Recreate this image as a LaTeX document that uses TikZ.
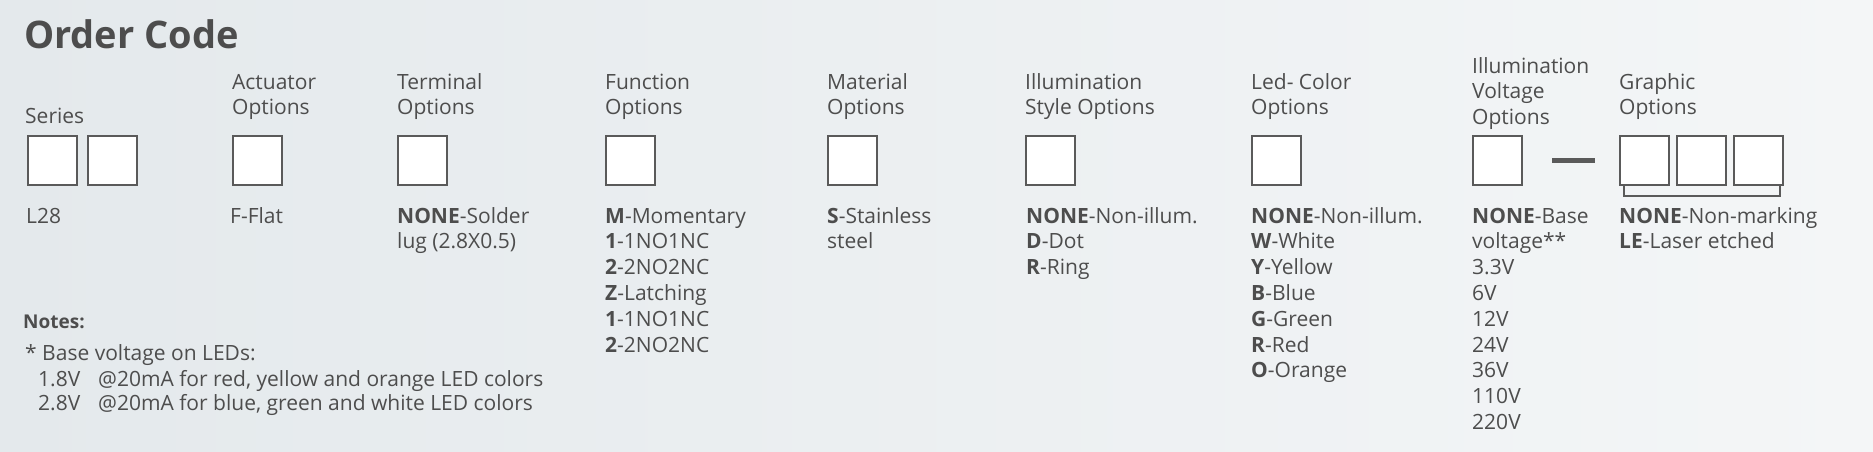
\documentclass[tikz,border=0pt]{standalone}
\usepackage{fontspec}
\setmainfont{Open Sans}

\definecolor{txtgray}{HTML}{4D4D4D}
\definecolor{boxgray}{HTML}{5A5A5A}
\definecolor{bgleft}{HTML}{E4E9EC}
\definecolor{bgright}{HTML}{F4F6F7}

\tikzset{
  codebox/.style={draw=boxgray, line width=2pt, fill=white, minimum width=49pt, minimum height=49pt, inner sep=0pt, anchor=north west},
  optlabel/.style={anchor=base west, inner sep=0pt, text=txtgray, font=\fontsize{21}{24}\selectfont},
  optvalue/.style={optlabel},
  sepbar/.style={draw=boxgray, line width=5pt},
  bracket/.style={draw=boxgray, line width=2pt}
}

\begin{document}
\begin{tikzpicture}[x=1pt, y=-1pt]
  \shade[left color=bgleft, right color=bgright] (0,0) rectangle (1873,451);
  \useasboundingbox (0,0) rectangle (1873,451);

  \node[optlabel, font=\fontsize{38}{42}\selectfont\bfseries] (title) at (24,48) {Order Code};

  % series
  \node[optlabel] (ser_lbl) at (25,123) {Series};
  \node[codebox] (ser_box1) at (27,135) {};
  \node[codebox] (ser_box2) at (87,135) {};
  \node[optvalue] (ser_val) at (26,223) {L28};

  % actuator
  \node[optlabel] (act_lbl1) at (232,89) {Actuator};
  \node[optlabel] (act_lbl2) at (232,114.5) {Options};
  \node[codebox] (act_box) at (232,135) {};
  \node[optvalue] (act_val) at (230,223) {F-Flat};

  % terminal
  \node[optlabel] (term_lbl1) at (397,89) {Terminal};
  \node[optlabel] (term_lbl2) at (397,114.5) {Options};
  \node[codebox] (term_box) at (397,135) {};
  \foreach \txt [count=\i from 0] in {{\textbf{NONE}-Solder}, {lug (2.8X0.5)}}
    \node[optvalue] (term_val\i) at (397, 223+25.8*\i) {\txt};

  % function
  \node[optlabel] (fn_lbl1) at (605,89) {Function};
  \node[optlabel] (fn_lbl2) at (605,114.5) {Options};
  \node[codebox] (fn_box) at (605,135) {};
  \foreach \txt [count=\i from 0] in {{\textbf{M}-Momentary}, {\textbf{1}-1NO1NC}, {\textbf{2}-2NO2NC},
      {\textbf{Z}-Latching}, {\textbf{1}-1NO1NC}, {\textbf{2}-2NO2NC}}
    \node[optvalue] (fn_val\i) at (605, 223+25.8*\i) {\txt};

  % material
  \node[optlabel] (mat_lbl1) at (827,89) {Material};
  \node[optlabel] (mat_lbl2) at (827,114.5) {Options};
  \node[codebox] (mat_box) at (827,135) {};
  \foreach \txt [count=\i from 0] in {{\textbf{S}-Stainless}, {steel}}
    \node[optvalue] (mat_val\i) at (827, 223+25.8*\i) {\txt};

  % illumination style
  \node[optlabel] (sty_lbl1) at (1025,89) {Illumination};
  \node[optlabel] (sty_lbl2) at (1025,114.5) {Style Options};
  \node[codebox] (sty_box) at (1025,135) {};
  \foreach \txt [count=\i from 0] in {{\textbf{NONE}-Non-illum.}, {\textbf{D}-Dot}, {\textbf{R}-Ring}}
    \node[optvalue] (sty_val\i) at (1026, 223+25.8*\i) {\txt};

  % led colour
  \node[optlabel] (led_lbl1) at (1251,89) {Led- Color};
  \node[optlabel] (led_lbl2) at (1251,114.5) {Options};
  \node[codebox] (led_box) at (1251,135) {};
  \foreach \txt [count=\i from 0] in {{\textbf{NONE}-Non-illum.}, {\textbf{W}-White}, {\textbf{Y}-Yellow},
      {\textbf{B}-Blue}, {\textbf{G}-Green}, {\textbf{R}-Red}, {\textbf{O}-Orange}}
    \node[optvalue] (led_val\i) at (1251, 223+25.8*\i) {\txt};

  % illumination voltage
  \node[optlabel] (volt_lbl1) at (1472,73) {Illumination};
  \node[optlabel] (volt_lbl2) at (1472,98.5) {Voltage};
  \node[optlabel] (volt_lbl3) at (1472,124) {Options};
  \node[codebox] (volt_box) at (1472,135) {};
  \foreach \txt [count=\i from 0] in {{\textbf{NONE}-Base}, {voltage**}, {3.3V}, {6V}, {12V},
      {24V}, {36V}, {110V}, {220V}}
    \node[optvalue] (volt_val\i) at (1472, 223+25.8*\i) {\txt};

  \draw[sepbar] ([xshift=29pt]volt_box.east) -- ++(43,0);

  % graphic
  \node[optlabel] (gr_lbl1) at (1619,89) {Graphic};
  \node[optlabel] (gr_lbl2) at (1619,114.5) {Options};
  \foreach \k in {1,2,3}
    \node[codebox] (gr_box\k) at (1619+57*\k-57,135) {};
  \draw[bracket] ([xshift=5pt]gr_box1.south west) -- ++(0,10) -| ([xshift=-4pt]gr_box3.south east);
  \foreach \txt [count=\i from 0] in {{\textbf{NONE}-Non-marking}, {\textbf{LE}-Laser etched}}
    \node[optvalue] (gr_val\i) at (1619, 223+25.8*\i) {\txt};

  % notes
  \node[optlabel, font=\fontsize{19}{24}\selectfont\bfseries] (notes) at (23,328) {Notes:};
  \node[optlabel] (note_base) at (25,360) {* Base voltage on LEDs:};
  \node[optlabel] (note_v1) at (38,386) {1.8V};
  \node[optlabel] (note_t1) at (98,386) {@20mA for red, yellow and orange LED colors};
  \node[optlabel] (note_v2) at (38,410) {2.8V};
  \node[optlabel] (note_t2) at (98,410) {@20mA for blue, green and white LED colors};
\end{tikzpicture}
\end{document}
